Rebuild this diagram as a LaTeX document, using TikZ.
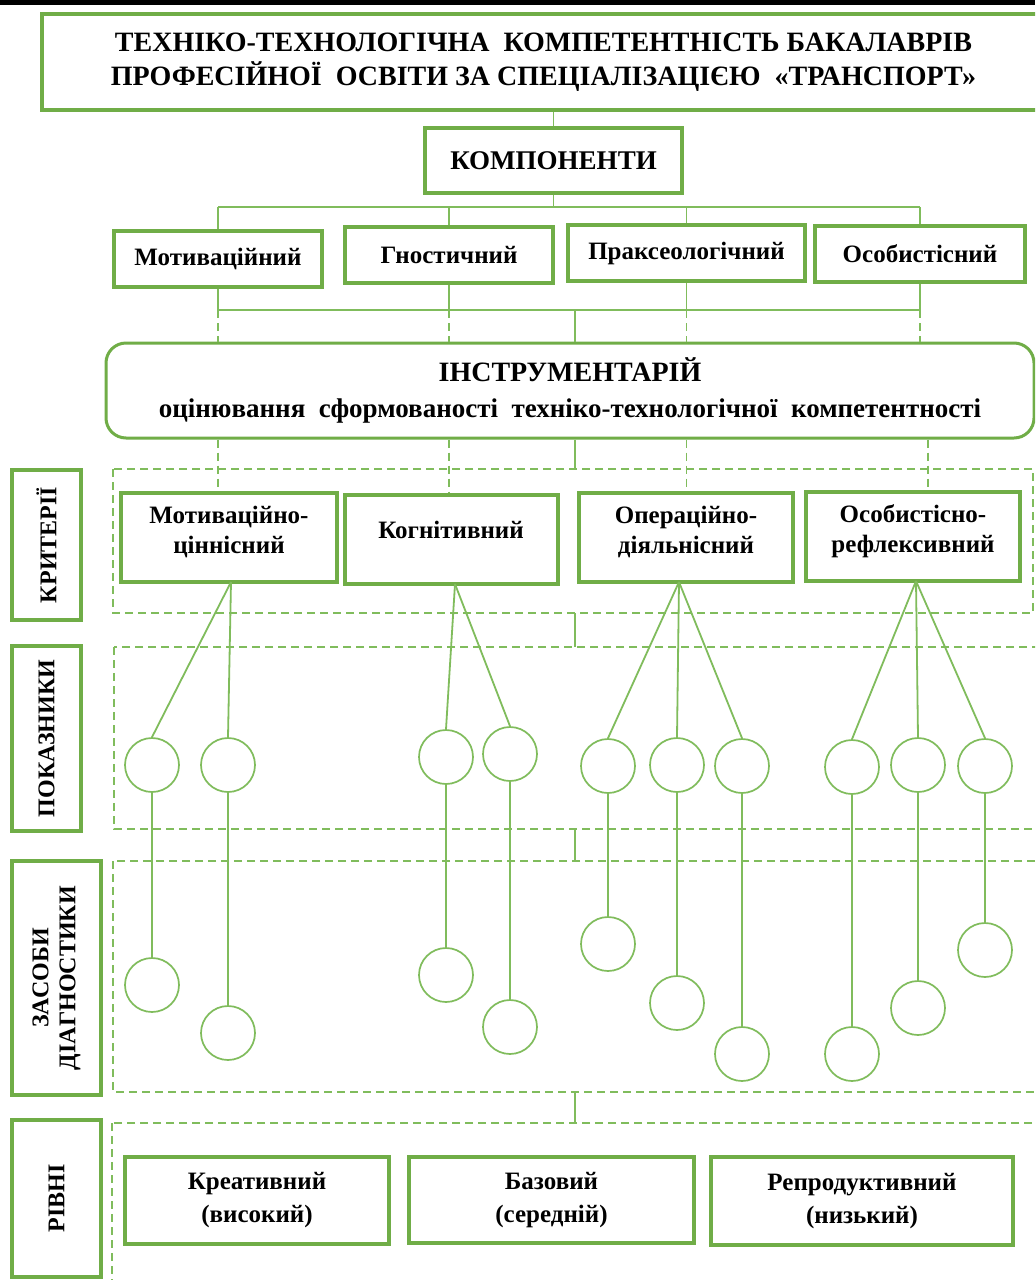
\documentclass[tikz,border=0pt]{standalone}
\usepackage{fontspec}
\setmainfont{Liberation Serif}
\usetikzlibrary{calc}
\definecolor{gbox}{RGB}{112,173,71}
\definecolor{gline}{RGB}{128,188,92}
\newcommand{\mybox}[7][]{%
  \pgfmathsetmacro\myboxw{(#4-#2)*0.5}%
  \pgfmathsetmacro\myboxh{(#5-#3)*0.5}%
  \node[box,#1,minimum width=\myboxw pt,minimum height=\myboxh pt] (#6)
    at ({(#2+#4)/2},{(#3+#5)/2}) {#7};}
\begin{document}
\begin{tikzpicture}[x=0.5pt,y=-0.5pt,
  box/.style={draw=gbox, line width=1.75pt, inner sep=0pt, align=center,
    font=\bfseries\fontsize{12.5}{15}\selectfont},
  frame/.style={draw=gline, line width=0.9pt, dash pattern=on 4pt off 2.5pt, fill=none},
  circ/.style={circle, draw=gline, line width=0.85pt, minimum size=27pt, inner sep=0pt},
  conn/.style={draw=gline, line width=0.9pt},
  dconn/.style={draw=gline, line width=0.9pt, dash pattern=on 4pt off 2.5pt},
  vlab/.style={rotate=90, align=center, font=\bfseries\fontsize{12}{13.5}\selectfont},
  ctext/.style={align=center, inner sep=0pt, font=\bfseries\fontsize{12.5}{15}\selectfont}
]
\useasboundingbox (0,0) rectangle (1035,1280);
\clip (0,0) rectangle (1035,1280);
\fill[white] (0,0) rectangle (1035,1280);
\fill[black] (0,0) rectangle (1035,5);

% title
\mybox[line width=2pt, font=\bfseries\fontsize{14}{17}\selectfont]{42}{14}{1045}{110}{title}
  {ТЕХНІКО-ТЕХНОЛОГІЧНА\ \ КОМПЕТЕНТНІСТЬ БАКАЛАВРІВ\\
   ПРОФЕСІЙНОЇ\ \ ОСВІТИ ЗА СПЕЦІАЛІЗАЦІЄЮ\ \ «ТРАНСПОРТ»}

\mybox[font=\bfseries\fontsize{13.5}{16}\selectfont]{425}{128}{682}{193}{komp}{КОМПОНЕНТИ}

% components
\mybox{114}{231}{322}{287}{m1}{Мотиваційний}
\mybox{345}{227}{553}{283}{m2}{Гностичний}
\mybox{568}{225}{805}{281}{m3}{Праксеологічний}
\mybox{815}{226}{1025}{282}{m4}{Особистісний}

% instrument
\mybox[line width=1.5pt, rounded corners=10pt, font=\bfseries\fontsize{13.5}{18}\selectfont]{106}{343}{1034}{438}{instr}
  {{\fontsize{14}{18}\selectfont ІНСТРУМЕНТАРІЙ}\\
   оцінювання\ \ сформованості\ \ техніко-технологічної\ \ компетентності}

% frames
\draw[frame] (113,469) rectangle (1033,613);
\coordinate (fKn) at (0,469); \coordinate (fKs) at (0,613);
\draw[frame] (114,647) rectangle (1045,829);
\coordinate (fPn) at (0,647); \coordinate (fPs) at (0,829);
\draw[frame] (113,861) rectangle (1045,1092);
\coordinate (fZn) at (0,861); \coordinate (fZs) at (0,1092);
\draw[frame] (112,1123) rectangle (1045,1300);
\coordinate (fRn) at (0,1123);

% left labels
\mybox{12}{470}{81}{620}{lk}{}
\node[vlab] at (lk.center) {КРИТЕРІЇ};
\mybox{12}{646}{81}{831}{lp}{}
\node[vlab] at (lp.center) {ПОКАЗНИКИ};
\mybox{12}{861}{101}{1095}{lz}{}
\node[vlab] at (lz.center) {ЗАСОБИ\\ДІАГНОСТИКИ};
\mybox{12}{1120}{101}{1277}{lr}{}
\node[vlab] at (lr.center) {РІВНІ};

% criteria
\mybox{121}{493}{337}{582}{c1}{}
\node[ctext] at (229,532) {Мотиваційно-\\ціннісний};
\mybox{345}{495}{558}{584}{c2}{}
\node[ctext] at (451,530) {Когнітивний};
\mybox{579}{493}{793}{582}{c3}{}
\node[ctext] at (686,532) {Операційно-\\діяльнісний};
\mybox{806}{492}{1020}{581}{c4}{}
\node[ctext] at (913,531) {Особистісно-\\рефлексивний};

% levels
\mybox[font=\bfseries\fontsize{12.5}{16.5}\selectfont]{125}{1157}{389}{1244}{l1}{Креативний\\(високий)}
\mybox[font=\bfseries\fontsize{12.5}{16.5}\selectfont]{409}{1157}{694}{1243}{l2}{Базовий\\(середній)}
\mybox[font=\bfseries\fontsize{12.5}{16.5}\selectfont]{711}{1157}{1013}{1245}{l3}{Репродуктивний\\(низький)}

% upper connectors
\coordinate (bus1) at (0,207);
\coordinate (bus2) at (0,310);
\coordinate (spine) at (575,0);
\draw[conn] (komp.north) -- (komp.north |- title.south);
\draw[conn] (komp.south) -- (komp.south |- bus1);
\draw[conn] (m1.north |- bus1) -- (m4.north |- bus1);
\foreach \m in {m1,m2,m3,m4} {
  \draw[conn] (\m.north) -- (\m.north |- bus1);
  \draw[conn] (\m.south) -- (\m.south |- bus2);
  \draw[dconn] (\m.south |- bus2) -- (\m.south |- instr.north);
}
\draw[conn] (m1.south |- bus2) -- (m4.south |- bus2);
\draw[conn] (spine |- bus2) -- (spine |- instr.north);
\draw[dconn] (m1.south |- instr.south) -- (m1.south |- c1.north);
\draw[dconn] (m2.south |- instr.south) -- (m2.south |- c2.north);
\draw[dconn] (m3.south |- instr.south) -- (m3.south |- c3.north);
\draw[dconn] ($(m4.south |- instr.south)+(8,0)$) -- ($(m4.south |- c4.north)+(8,0)$);
\draw[conn] (spine |- instr.south) -- (spine |- fKn);
\draw[conn] (spine |- fKs) -- (spine |- fPn);
\draw[conn] (spine |- fPs) -- (spine |- fZn);
\draw[conn] (spine |- fZs) -- (spine |- fRn);

% indicators
\node[circ] (i11) at (152,765) {};
\node[circ] (i12) at (228,765) {};
\node[circ] (i21) at (446,757) {};
\node[circ] (i22) at (510,754) {};
\node[circ] (i31) at (608,766) {};
\node[circ] (i32) at (677,765) {};
\node[circ] (i33) at (742,766) {};
\node[circ] (i41) at (852,767) {};
\node[circ] (i42) at (918,765) {};
\node[circ] (i43) at (985,766) {};
% diagnostics
\node[circ] (d11) at (152,985) {};
\node[circ] (d12) at (228,1033) {};
\node[circ] (d21) at (446,975) {};
\node[circ] (d22) at (510,1027) {};
\node[circ] (d31) at (608,944) {};
\node[circ] (d32) at (677,1003) {};
\node[circ] (d33) at (742,1054) {};
\node[circ] (d41) at (852,1054) {};
\node[circ] (d42) at (918,1008) {};
\node[circ] (d43) at (985,950) {};

\coordinate (a1) at (231,582);
\coordinate (a2) at (455,584);
\coordinate (a3) at (679,582);
\coordinate (a4) at (916,581);
\foreach \a/\i in {a1/i11,a1/i12,a2/i21,a2/i22,a3/i31,a3/i32,a3/i33,a4/i41,a4/i42,a4/i43}
  \draw[conn] (\a) -- (\i.north);
\foreach \n in {11,12,21,22,31,32,33,41,42,43}
  \draw[conn] (i\n.south) -- (d\n.north);
\end{tikzpicture}
\end{document}
